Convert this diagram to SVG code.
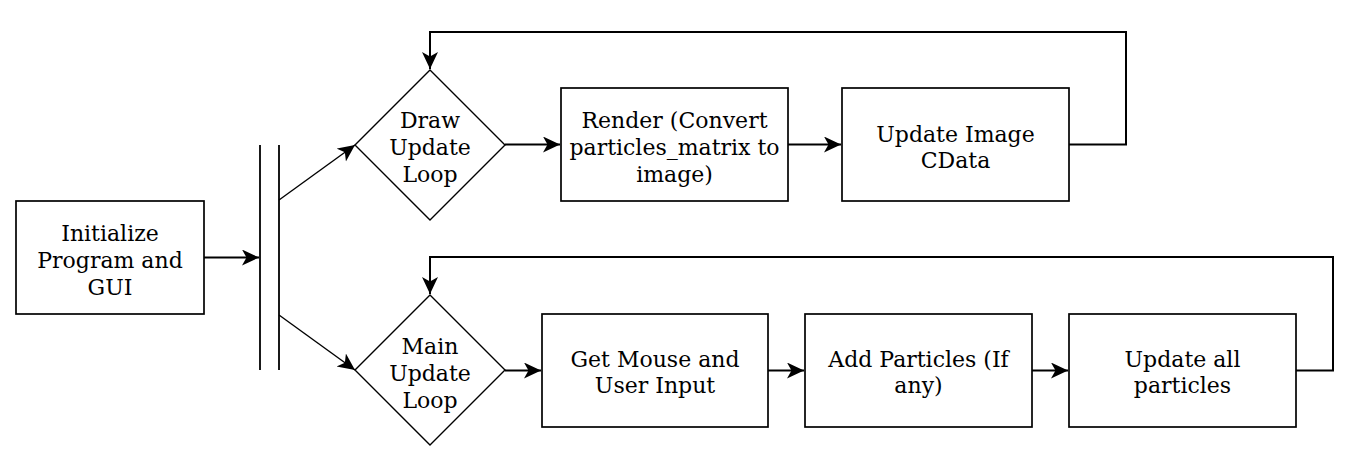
<svg xmlns="http://www.w3.org/2000/svg" width="1352" height="475" viewBox="0 0 1352 475">
<style>
.box{fill:#fff;stroke:#000;stroke-width:1.7}
.dia{fill:#fff;stroke:#000;stroke-width:1.4}
.bar{stroke:#000;stroke-width:1.8;fill:none}
.edge{fill:none;stroke:#000;stroke-width:2}
.thin{fill:none;stroke:#000;stroke-width:1.4}
text{font-family:"DejaVu Serif",serif;font-size:22px;fill:#000;text-anchor:middle}
</style>
<defs>
<marker id="ah" markerUnits="userSpaceOnUse" markerWidth="20" markerHeight="18" refX="17" refY="8" orient="auto">
<path d="M0,0 L17,8 L0,16 L4.5,8 Z" fill="#000"/>
</marker>
</defs>
<rect width="1352" height="475" fill="#fff"/>
<g id="connectors">
<path class="edge" d="M204,257.5 L259,257.5" marker-end="url(#ah)"/>
<path class="thin" d="M279,200 L355,145" marker-end="url(#ah)"/>
<path class="thin" d="M279,315 L355,370" marker-end="url(#ah)"/>
<path class="edge" d="M505,144.5 L560,144.5" marker-end="url(#ah)"/>
<path class="edge" d="M788,144.5 L841,144.5" marker-end="url(#ah)"/>
<path class="edge" d="M1069,144.5 L1126,144.5 L1126,32 L430,32 L430,69" marker-end="url(#ah)"/>
<path class="edge" d="M505,370.5 L541,370.5" marker-end="url(#ah)"/>
<path class="edge" d="M768,370.5 L804,370.5" marker-end="url(#ah)"/>
<path class="edge" d="M1032,370.5 L1068,370.5" marker-end="url(#ah)"/>
<path class="edge" d="M1296,370.5 L1333,370.5 L1333,257 L430,257 L430,294" marker-end="url(#ah)"/>
</g>
<g id="init">
<rect class="box" x="16" y="201" width="188" height="113"/>
<text x="110" y="240.5">Initialize</text>
<text x="110" y="267.5">Program and</text>
<text x="110" y="294.5">GUI</text>
</g>
<g id="fork">
<line class="bar" x1="260" y1="145" x2="260" y2="370"/>
<line class="bar" x1="279" y1="145" x2="279" y2="370"/>
</g>
<g id="draw-loop">
<path class="dia" d="M355,145 L430,70 L505,145 L430,220 Z"/>
<text x="430" y="128">Draw</text>
<text x="430" y="155">Update</text>
<text x="430" y="182">Loop</text>
</g>
<g id="render">
<rect class="box" x="561" y="88" width="227" height="113"/>
<text x="674.5" y="128">Render (Convert</text>
<text x="674.5" y="155">particles_matrix to</text>
<text x="674.5" y="182">image)</text>
</g>
<g id="update-image">
<rect class="box" x="842" y="88" width="227" height="113"/>
<text x="955.5" y="141.5">Update Image</text>
<text x="955.5" y="167.5">CData</text>
</g>
<g id="main-loop">
<path class="dia" d="M355,370 L430,295 L505,370 L430,445 Z"/>
<text x="430" y="354">Main</text>
<text x="430" y="381">Update</text>
<text x="430" y="408">Loop</text>
</g>
<g id="get-mouse">
<rect class="box" x="542" y="314" width="226" height="113"/>
<text x="655" y="367">Get Mouse and</text>
<text x="655" y="393">User Input</text>
</g>
<g id="add-particles">
<rect class="box" x="805" y="314" width="227" height="113"/>
<text x="918.5" y="367">Add Particles (If</text>
<text x="918.5" y="393">any)</text>
</g>
<g id="update-particles">
<rect class="box" x="1069" y="314" width="227" height="113"/>
<text x="1182.5" y="367">Update all</text>
<text x="1182.5" y="393">particles</text>
</g>
</svg>
